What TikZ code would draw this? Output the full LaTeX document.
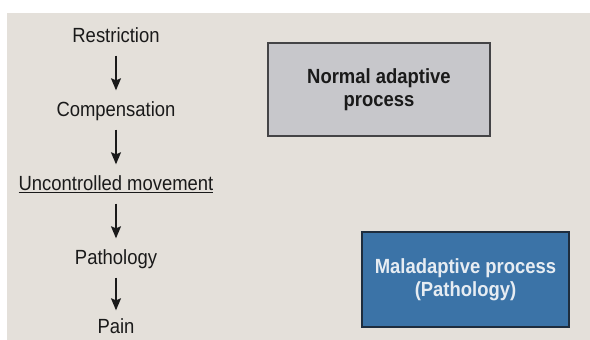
\documentclass[tikz,border=0pt]{standalone}
\usepackage{fontspec}
\setmainfont{Liberation Sans}[FakeStretch=0.9]
\usepackage{tikz}
\usetikzlibrary{arrows.meta}

\definecolor{pagebg}{HTML}{E4E0DA}
\definecolor{inkgray}{HTML}{1A1A1A}
\definecolor{normalfill}{HTML}{C7C7CB}
\definecolor{normalline}{HTML}{444446}
\definecolor{maladfill}{HTML}{3B73A7}
\definecolor{maladline}{HTML}{1E2D3E}
\definecolor{maladtext}{HTML}{E6ECF2}

\begin{document}
\begin{tikzpicture}[x=1pt,y=-1pt,>={Stealth[length=12pt,width=10pt,inset=2pt]},
  node distance=74pt,
  main node/.style={font=\fontsize{20.5}{24}\selectfont,text=inkgray,
    text height=15pt,text depth=4pt,inner sep=2pt},
  flow/.style={->,line width=1.4pt,draw=inkgray,shorten <=7pt,shorten >=9pt},
  box node/.style={draw,line width=1.6pt,align=center,
    font=\fontsize{20.5}{23}\selectfont\bfseries}]

  \useasboundingbox (0,0) rectangle (590,340);
  \clip (0,0) rectangle (590,340);
  \fill[white] (0,0) rectangle (590,340);
  \fill[pagebg] (7,13) rectangle (590,340);

  \node[main node] (1) at (116,37) {Restriction};
  \node[main node] (2) [below of=1] {Compensation};
  \node[main node] (3) [below of=2] {\underline{Uncontrolled movement}};
  \node[main node] (4) [below of=3] {Pathology};
  \node[main node,text depth=0pt] (5) [below of=4,yshift=7pt] {Pain};

  \draw[flow] (1) -- (2);
  \draw[flow] (2) -- (3);
  \draw[flow] (3) -- (4);
  \draw[flow,shorten >=6pt] (4) -- (5);

  \node[box node,fill=normalfill,draw=normalline,text=inkgray,
    minimum width=222pt,minimum height=93pt] (normal) at (379,89.5)
    {Normal adaptive\\process};
  \node[box node,fill=maladfill,draw=maladline,text=maladtext,
    minimum width=207pt,minimum height=95pt] (malad) at (465.5,279.5)
    {Maladaptive process\\(Pathology)};
\end{tikzpicture}
\end{document}
